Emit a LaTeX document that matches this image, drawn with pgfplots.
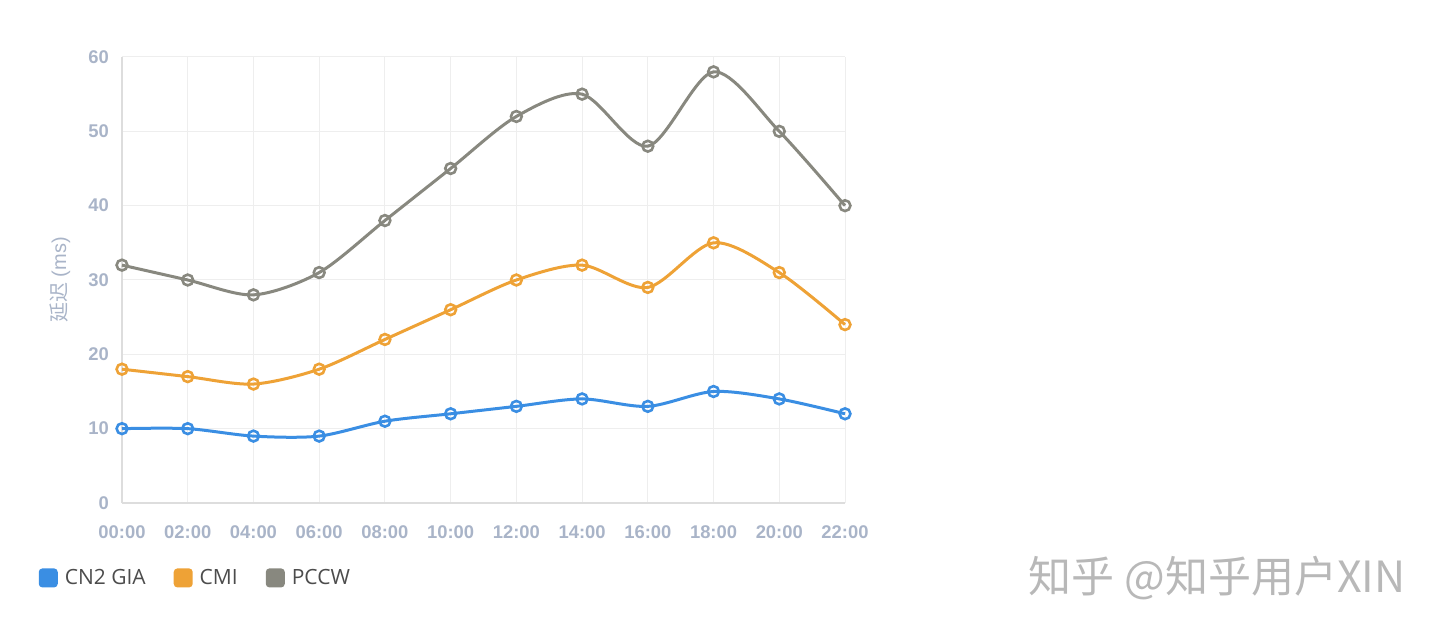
\documentclass[border=0pt]{standalone}
\usepackage{fontspec}
\setmainfont{Liberation Sans}
\newfontfamily\legfont{Open Sans}
\newfontfamily\cjk{Noto Sans CJK SC}
\usepackage{pgfplots}
\pgfplotsset{compat=1.18}
\definecolor{cnblue}{HTML}{3A8EE3}
\definecolor{cmiorange}{HTML}{EEA236}
\definecolor{pccwgray}{HTML}{88887F}
\definecolor{ticktext}{HTML}{A9B4C8}
\definecolor{gridc}{HTML}{EEEEEE}
\definecolor{axisc}{HTML}{DDDDDD}
\begin{document}
\begin{tikzpicture}
\useasboundingbox (0,0) rectangle (720pt,317.5pt);
\begin{axis}[
  at={(61pt,66pt)}, anchor=south west,
  scale only axis, width=361.5pt, height=223pt,
  xmin=0, xmax=11, ymin=0, ymax=60,
  xtick={0,...,11},
  xticklabels={00:00,02:00,04:00,06:00,08:00,10:00,12:00,14:00,16:00,18:00,20:00,22:00},
  ytick={0,10,...,60},
  /pgf/number format/assume math mode=true,
  tick label style={font=\bfseries\fontsize{9.2}{10}\selectfont, text=ticktext},
  xticklabel style={yshift=-8pt},
  yticklabel style={xshift=-3pt},
  grid=major, major grid style={gridc, line width=0.5pt},
  axis x line*=bottom, axis y line*=left,
  axis line style={axisc, line width=0.6pt},
  x axis line style={-}, y axis line style={-},
  major tick length=0pt,
  ytick style={draw=none}, xtick style={draw=none},
  ylabel={{\cjk 延迟} (ms)},
  ylabel style={font=\fontsize{10}{12}\selectfont, text=ticktext, at={(axis description cs:-0.086,0.5)}, anchor=center},
  legend columns=3,
  legend style={at={(axis description cs:-0.124,-0.168)}, anchor=west, draw=none, fill=none,
    font=\legfont\fontsize{10.5}{12}\selectfont, text=black!70,
    /tikz/every odd column/.append style={column sep=1.5pt},
    /tikz/every even column/.append style={column sep=12pt}},
  clip=false,
]
\addplot[cnblue, line width=1.5pt, smooth, tension=0.5,
  mark=o, mark size=2.7pt, mark options={line width=1.3pt},
  legend image code/.code={\fill[cnblue, rounded corners=1.2pt] (0pt,-4pt) rectangle (8pt,4pt);}]
  coordinates {(0,10)(1,10)(2,9)(3,9)(4,11)(5,12)(6,13)(7,14)(8,13)(9,15)(10,14)(11,12)};
\addlegendentry{CN2 GIA}
\addplot[cmiorange, line width=1.5pt, smooth, tension=0.5,
  mark=o, mark size=2.7pt, mark options={line width=1.3pt},
  legend image code/.code={\fill[cmiorange, rounded corners=1.2pt] (0pt,-4pt) rectangle (8pt,4pt);}]
  coordinates {(0,18)(1,17)(2,16)(3,18)(4,22)(5,26)(6,30)(7,32)(8,29)(9,35)(10,31)(11,24)};
\addlegendentry{CMI}
\addplot[pccwgray, line width=1.5pt, smooth, tension=0.5,
  mark=o, mark size=2.7pt, mark options={line width=1.3pt},
  legend image code/.code={\fill[pccwgray, rounded corners=1.2pt] (0pt,-4pt) rectangle (8pt,4pt);}]
  coordinates {(0,32)(1,30)(2,28)(3,31)(4,38)(5,45)(6,52)(7,55)(8,48)(9,58)(10,50)(11,40)};
\addlegendentry{PCCW}
\end{axis}
\node[anchor=center, text=black!28, font=\cjk\fontsize{21.5}{24}\selectfont] at (608.5pt,28.5pt) {知乎 @知乎用户XIN};
\end{tikzpicture}
\end{document}
